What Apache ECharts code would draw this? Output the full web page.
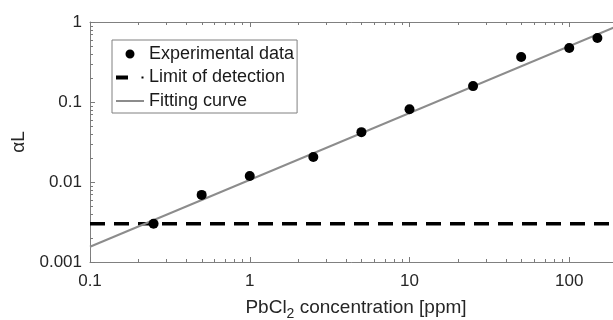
<!DOCTYPE html>
<html>
<head>
<meta charset="utf-8">
<script src="https://cdn.jsdelivr.net/npm/echarts@6/dist/echarts.min.js"></script>
<style>
html,body{margin:0;padding:0;background:#fff;}
#c{width:613px;height:320px;}
</style>
</head>
<body>
<div id="c"></div>
<script>
// ---- data ----
const concPpm = [0.25, 0.5, 1, 2.5, 5, 10, 25, 50, 100, 150];
const alphaL  = [0.0030, 0.0069, 0.0119, 0.0205, 0.042, 0.081, 0.158, 0.365, 0.473, 0.63];
const lodLevel = 0.003;
const lodX = [0.1, 1000];
const fitX = [0.1, 230];
const fitY = [0.00155, 1.0];
const seriesNames = ['Experimental data', 'Limit of detection', 'Fitting curve'];
// minor tick positions of the log axes
const xMinorTicks = [0.2, 0.3, 0.4, 0.5, 0.6, 0.7, 0.8, 0.9, 2, 3, 4, 5, 6, 7, 8, 9, 20, 30, 40, 50, 60, 70, 80, 90, 200, 300];
const yMinorTicks = [0.002, 0.003, 0.004, 0.005, 0.006, 0.007, 0.008, 0.009, 0.02, 0.03, 0.04, 0.05, 0.06, 0.07, 0.08, 0.09, 0.2, 0.3, 0.4, 0.5, 0.6, 0.7, 0.8, 0.9];
const X_MIN = 0.1, X_MAX = 1000, Y_MIN = 0.001, Y_MAX = 1;

const FONT = "'Liberation Sans', Arial, sans-serif";
const AXIS_COLOR = '#808080';
const TICK_COLOR = '#7a7a7a';
const TEXT_COLOR = '#262626';
const MINOR_LEN = 3;

const chart = echarts.init(document.getElementById('c'), null, {renderer: 'canvas'});

function axisBase(extra) {
  return Object.assign({
    type: 'log',
    logBase: 10,
    axisLine: {show: true, lineStyle: {color: AXIS_COLOR, width: 1}},
    axisTick: {show: true, inside: true, length: 5, lineStyle: {color: TICK_COLOR, width: 1}},
    minorTick: {show: false},
    splitLine: {show: false},
    minorSplitLine: {show: false}
  }, extra);
}

const iconDot  = 'path://M0,0L0.01,0L0,0.01Z M30,9L29.99,9L30,8.99Z M11.5,4.5A4.5,4.5,0,1,0,20.5,4.5A4.5,4.5,0,1,0,11.5,4.5Z';
const iconDash = 'path://M0,0L0.01,0L0,0.01Z M30,9L29.99,9L30,8.99Z M2,2.5L14,2.5L14,6.5L2,6.5Z M27.5,3.5L29.5,3.5L29.5,5.5L27.5,5.5Z';
const iconLine = 'path://M0,0L0.01,0L0,0.01Z M30,9L29.99,9L30,8.99Z M2,3.5L30,3.5L30,5.5L2,5.5Z';

function minorTickX(params, api) {
  const v = api.value(0);
  const b = api.coord([v, Y_MIN]);
  const t = api.coord([v, Y_MAX]);
  const x = Math.round(b[0]) + 0.5;
  return {
    type: 'path',
    shape: {pathData: 'M' + x + ',' + b[1] + 'L' + x + ',' + (b[1] - MINOR_LEN) +
                      'M' + x + ',' + t[1] + 'L' + x + ',' + (t[1] + MINOR_LEN)},
    style: {stroke: TICK_COLOR, lineWidth: 1, fill: null}
  };
}
function minorTickY(params, api) {
  const v = api.value(1);
  const l = api.coord([X_MIN, v]);
  const r = api.coord([X_MAX, v]);
  const y = Math.round(l[1]) + 0.5;
  return {
    type: 'path',
    shape: {pathData: 'M' + l[0] + ',' + y + 'L' + (l[0] + MINOR_LEN) + ',' + y +
                      'M' + r[0] + ',' + y + 'L' + (r[0] - MINOR_LEN) + ',' + y},
    style: {stroke: TICK_COLOR, lineWidth: 1, fill: null}
  };
}

const option = {
  backgroundColor: '#fff',
  animation: false,
  textStyle: {fontFamily: FONT},
  grid: {left: 90, right: -116, top: 22, bottom: 58, containLabel: false, outerBoundsMode: 'none'},
  legend: {
    orient: 'vertical',
    left: 112, top: 40,
    padding: [4, 3, 2, 2],
    itemWidth: 30, itemHeight: 9,
    itemGap: 3.5,
    borderColor: '#808080', borderWidth: 1,
    backgroundColor: '#fff',
    itemStyle: {borderWidth: 0},
    textStyle: {fontSize: 18, color: '#1a1a1a', fontFamily: FONT, lineHeight: 20},
    data: [
      {name: seriesNames[0], icon: iconDot,  itemStyle: {color: '#000'}},
      {name: seriesNames[1], icon: iconDash, itemStyle: {color: '#000'}},
      {name: seriesNames[2], icon: iconLine, itemStyle: {color: '#8c8c8c'}}
    ]
  },
  xAxis: [
    axisBase({
      position: 'bottom', min: X_MIN, max: X_MAX,
      axisLabel: {fontSize: 17, color: TEXT_COLOR, margin: 11, fontFamily: FONT,
        formatter: v => (v >= 1000 ? '' : String(v))},
      name: 'PbCl{sub|2} concentration [ppm]',
      nameLocation: 'middle', nameGap: 33,
      nameTextStyle: {
        fontSize: 19, color: TEXT_COLOR, fontFamily: FONT,
        padding: [0, 107, 0, 0],
        rich: {sub: {fontSize: 14, color: TEXT_COLOR, fontFamily: FONT, padding: [12, 0, 0, 0]}}
      }
    }),
    axisBase({
      position: 'top', min: X_MIN, max: X_MAX,
      axisLabel: {show: false}
    })
  ],
  yAxis: [
    axisBase({
      position: 'left', min: Y_MIN, max: Y_MAX,
      axisLabel: {fontSize: 17, color: TEXT_COLOR, margin: 8, fontFamily: FONT},
      name: 'αL', nameLocation: 'middle', nameGap: 62,
      nameTextStyle: {fontSize: 19, color: TEXT_COLOR, fontFamily: FONT}
    }),
    axisBase({
      position: 'right', min: Y_MIN, max: Y_MAX,
      axisLabel: {show: false}
    })
  ],
  series: [
    {
      type: 'custom', name: 'xMinor', xAxisIndex: 0, yAxisIndex: 0,
      data: xMinorTicks.map(v => [v, Y_MIN]),
      renderItem: minorTickX, silent: true, clip: false, z: 1,
      encode: {x: 0, y: 1}
    },
    {
      type: 'custom', name: 'yMinor', xAxisIndex: 0, yAxisIndex: 0,
      data: yMinorTicks.map(v => [X_MIN, v]),
      renderItem: minorTickY, silent: true, clip: false, z: 1,
      encode: {x: 0, y: 1}
    },
    {
      name: seriesNames[1], type: 'line', xAxisIndex: 0, yAxisIndex: 0,
      data: lodX.map(x => [x, lodLevel]),
      showSymbol: false, symbol: 'none',
      lineStyle: {color: '#000', width: 3.5, type: [15, 9]},
      itemStyle: {color: '#000'},
      z: 2
    },
    {
      name: seriesNames[2], type: 'line', xAxisIndex: 0, yAxisIndex: 0,
      data: fitX.map((x, i) => [x, fitY[i]]),
      showSymbol: false, symbol: 'none',
      lineStyle: {color: '#8c8c8c', width: 2},
      itemStyle: {color: '#8c8c8c'},
      z: 3
    },
    {
      name: seriesNames[0], type: 'scatter', xAxisIndex: 0, yAxisIndex: 0,
      data: concPpm.map((x, i) => [x, alphaL[i]]),
      symbol: 'circle', symbolSize: 10,
      itemStyle: {color: '#000', opacity: 1},
      z: 4
    }
  ]
};
chart.setOption(option);
</script>
</body>
</html>
